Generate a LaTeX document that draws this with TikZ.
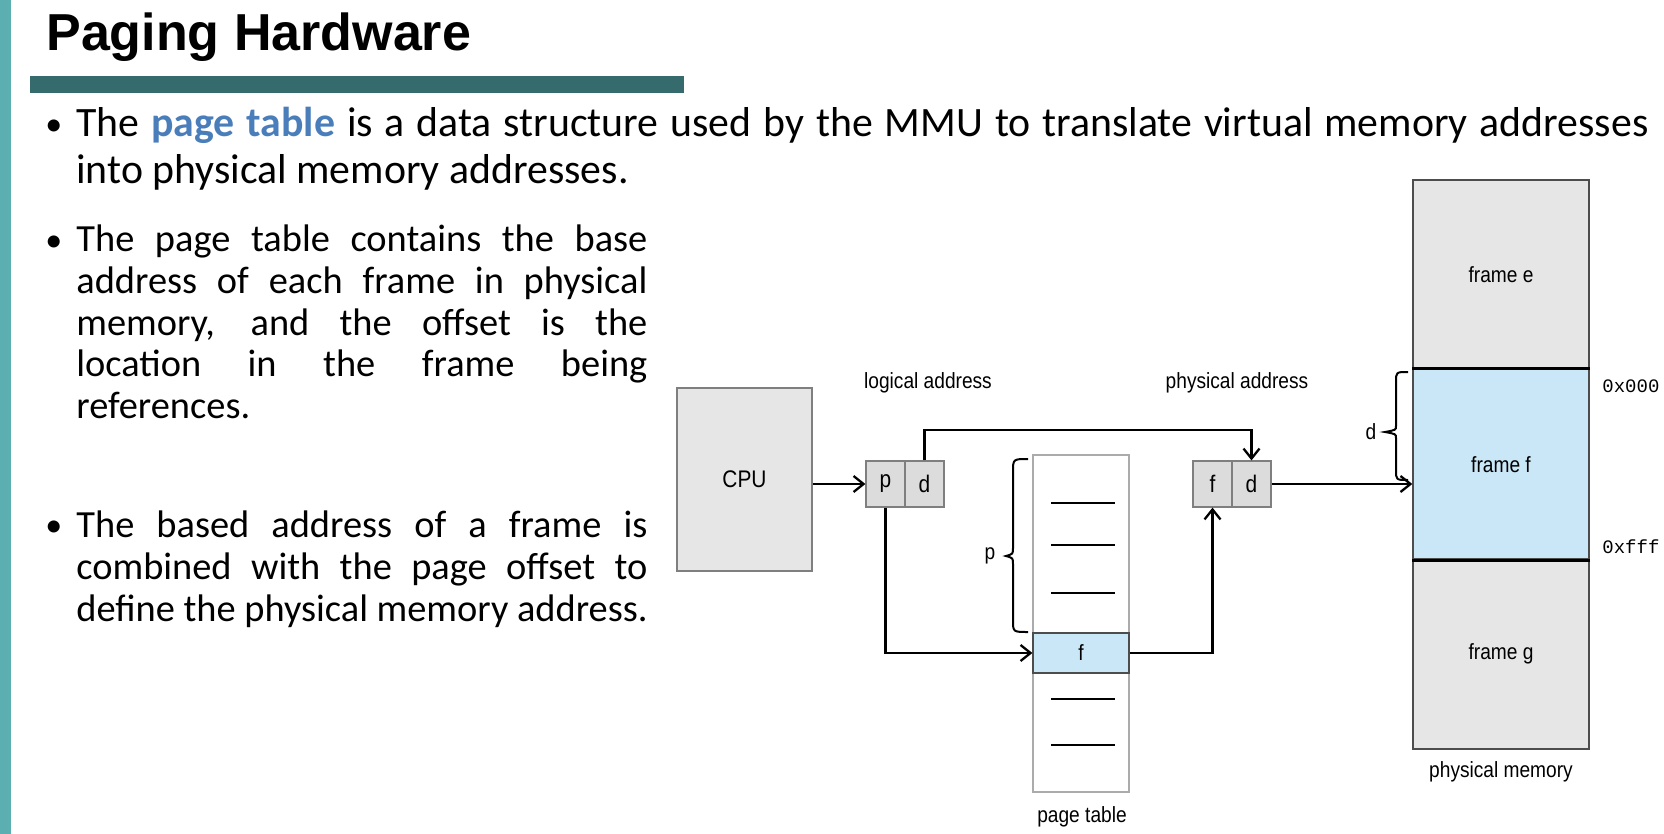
\documentclass[tikz,border=0pt]{standalone}
\usepackage{fontspec}
\setmainfont{Carlito}
\newfontfamily\titlefont{Liberation Sans}
\newfontfamily\labelfont[FakeStretch=0.87]{Liberation Sans}
\newfontfamily\codefont{Liberation Mono}
\usetikzlibrary{arrows.meta}

\definecolor{railteal}{HTML}{5BAFB0}
\definecolor{barteal}{HTML}{356B6D}
\definecolor{keyblue}{HTML}{4A7EBB}
\definecolor{boxgray}{HTML}{E6E6E6}
\definecolor{cellgray}{HTML}{DCDCDC}
\definecolor{frameblue}{HTML}{CAE7F8}
\definecolor{edgegray}{HTML}{7F7F7F}
\definecolor{tablegray}{HTML}{ABABAB}
\definecolor{memedge}{HTML}{4D4D4D}

\begin{document}
\begin{tikzpicture}[x=0.5pt,y=-0.5pt,
  bodyA/.style={font=\fontsize{20.9}{25}\selectfont, inner sep=0, anchor=base west},
  bodyB/.style={font=\fontsize{19.2}{23}\selectfont, inner sep=0, anchor=base west},
  dotA/.style={font=\fontsize{17}{20}\selectfont, inner sep=0, anchor=base west},
  lbl/.style={font=\labelfont\fontsize{11}{13}\selectfont, inner sep=0},
  addr/.style={font=\codefont\fontsize{9.5}{11}\selectfont, inner sep=0, anchor=west},
  cell/.style={lbl, font=\labelfont\fontsize{12}{14}\selectfont, draw=edgegray, fill=cellgray,
    line width=0.6pt, minimum width=19.5pt, minimum height=23pt},
  frm/.style={lbl, draw=memedge, line width=0.7pt, minimum width=88pt, minimum height=95pt},
  link/.style={draw=black, line width=1.15pt,
    -{Straight Barb[length=5pt,width=8pt,line width=1.15pt]}},
  entry/.style={draw=black, line width=0.7pt},
  curly/.style={draw=black, line width=1pt}
]
\useasboundingbox (0,0) rectangle (1664,834);
\fill[white] (0,0) rectangle (1664,834);

% side rail and title bar
\fill[railteal] (0,0) rectangle (11,834);
\fill[barteal] (30,76) rectangle (684,93);
\node[inner sep=0, anchor=base west, font=\titlefont\bfseries\fontsize{26}{30}\selectfont]
  (title) at (46,51) {Paging Hardware};

% bullet list
\node[dotA] (dot1) at (45,136) {\textbullet};
\node[bodyA] (b1l1) at (76,137) {\makebox[786pt][s]{The \textbf{\color{keyblue}page table} is a data structure used by the MMU to translate virtual memory addresses}};
\node[bodyA] (b1l2) at (76,183.5) {into physical memory addresses.};

\node[dotA] (dot2) at (45,251) {\textbullet};
\node[bodyB] (b2l1) at (76,252) {\makebox[285.5pt][s]{The page table contains the base}};
\node[bodyB] (b2l2) at (76,293.6) {\makebox[285.5pt][s]{address of each frame in physical}};
\node[bodyB] (b2l3) at (76,335.2) {\makebox[285.5pt][s]{memory, and the offset is the}};
\node[bodyB] (b2l4) at (76,376.8) {\makebox[285.5pt][s]{location in the frame being}};
\node[bodyB] (b2l5) at (76,418.4) {references.};

\node[dotA] (dot3) at (45,536) {\textbullet};
\node[bodyB] (b3l1) at (76,537) {\makebox[285.5pt][s]{The based address of a frame is}};
\node[bodyB] (b3l2) at (76,579) {\makebox[285.5pt][s]{combined with the page offset to}};
\node[bodyB] (b3l3) at (76,621) {define the physical memory address.};

% CPU
\node[lbl, draw=edgegray, fill=boxgray, line width=0.7pt,
  minimum width=67.5pt, minimum height=91.5pt] (cpu) at (744.5,479.5) {\fontsize{12}{14}\selectfont CPU};

% logical address
\node[cell] (pcell) at (885.5,484) {p};
\node[cell] (dcell) at (924.5,484) {d};
\node[lbl] (logl) at (928,383) {logical address};

% physical address
\node[cell] (pfcell) at (1212.5,484) {f};
\node[cell] (pdcell) at (1251.5,484) {d};
\node[lbl] (phyl) at (1237,383) {physical address};

% page table
\node[draw=tablegray, line width=0.8pt, minimum width=48pt, minimum height=168.5pt, inner sep=0]
  (ptab) at (1081,623.5) {};
\node[lbl, draw=memedge, fill=frameblue, line width=0.6pt, minimum width=48pt, minimum height=20pt]
  (frow) at (1081,653) {f};
\foreach \yy in {503,545,593,699,745}
  \draw[entry] (1051,\yy) -- (1115,\yy);
\node[lbl] (ptabl) at (1082,817) {page table};

% brace over the first page-table entries
\draw[curly] (1028,459) .. controls (1013,459) .. (1013,472) -- (1013,548)
  .. controls (1013,554) .. (1006,556) .. controls (1013,558) .. (1013,564)
  -- (1013,620) .. controls (1013,632) .. (1028,632);
\node[lbl] (plbl) at (990,556) {p};

% physical memory
\node[frm, fill=boxgray] (framee) at (1501,275) {frame e};
\node[frm, fill=frameblue] (framef) at (1501,464.5) {frame f};
\node[frm, fill=boxgray] (frameg) at (1501,654) {frame g};
\draw[black, line width=1.4pt] (framef.north west) -- (framef.north east);
\draw[black, line width=1.4pt] (framef.south west) -- (framef.south east);
\node[lbl] (meml) at (1501,772) {physical memory};
\node[addr] (lo) at (1602,386) {0x000};
\node[addr] (hi) at (1602,547) {0xfff};

% offset brace inside frame f
\draw[curly] (1408,372) .. controls (1396,372) .. (1396,382) -- (1396,426)
  .. controls (1396,430) .. (1385,432) .. controls (1396,434) .. (1396,438)
  -- (1396,470) .. controls (1396,480) .. (1408,480);
\node[lbl] (dlbl) at (1371,432) {d};

% connectors
\draw[link] (cpu.east |- pcell) -- (pcell.west);
\draw[link] (dcell.north) -- (dcell.north |- 0,430) -- (pdcell.north |- 0,430) -- (pdcell.north);
\draw[link] (pcell.south) |- (frow.west);
\draw[link] (frow.east) -| (pfcell.south);
\draw[link] (pdcell.east) -- (pdcell.east -| framef.west);
\end{tikzpicture}
\end{document}
